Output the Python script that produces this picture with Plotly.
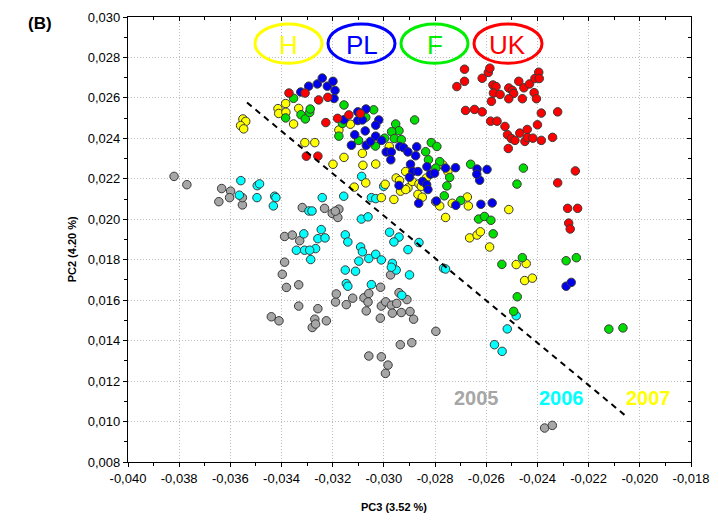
import plotly.graph_objects as go

# ---- PC3 / PC2 scores per country group -------------------------------------
gray_pc3 = [-0.03820, -0.03770, -0.03634, -0.03599, -0.03645, -0.03603, -0.03553, -0.03553,
            -0.03388, -0.03358, -0.03388, -0.03397, -0.03381, -0.03333, -0.03333, -0.03440,
            -0.03410, -0.03258, -0.03270, -0.03280, -0.03267, -0.03225, -0.03189, -0.03186,
            -0.03147, -0.03122, -0.03319, -0.03232, -0.03202, -0.03180, -0.03176, -0.03190,
            -0.02974, -0.03078, -0.03059, -0.03062, -0.03069, -0.03013, -0.03010, -0.02993,
            -0.02971, -0.02950, -0.02941, -0.02967, -0.02932, -0.02910, -0.02898, -0.02884,
            -0.03014, -0.02797, -0.03059, -0.03010, -0.02984, -0.02994, -0.02936, -0.02891,
            -0.02372, -0.02342, -0.03329]
gray_pc2 = [0.02212, 0.02171, 0.02152, 0.02139, 0.02087, 0.02107, 0.02071, 0.02107,
            0.01915, 0.01922, 0.01788, 0.01728, 0.01663, 0.01676, 0.01571, 0.01518,
            0.01498, 0.01558, 0.01506, 0.01465, 0.01482, 0.01498, 0.01591, 0.01631,
            0.01578, 0.01610, 0.02058, 0.02054, 0.02029, 0.02009, 0.02050, 0.02040,
            0.01725, 0.01612, 0.01633, 0.01591, 0.01547, 0.01664, 0.01571, 0.01592,
            0.01575, 0.01584, 0.01637, 0.01536, 0.01539, 0.01603, 0.01544, 0.01506,
            0.01511, 0.01446, 0.01324, 0.01320, 0.01279, 0.01238, 0.01380, 0.01390,
            0.00968, 0.00981, 0.01894]

cyan_pc3 = [-0.03559, -0.03565, -0.03495, -0.03486, -0.03496, -0.03427, -0.03422, -0.03432,
            -0.03342, -0.03313, -0.03293, -0.03281, -0.03241, -0.03157, -0.03049, -0.03032,
            -0.03088, -0.03062, -0.03245, -0.03258, -0.03230, -0.03267, -0.03310, -0.03290,
            -0.03286, -0.03151, -0.03141, -0.03091, -0.03084, -0.03059, -0.03032, -0.03010,
            -0.03098, -0.03151, -0.03111, -0.03147, -0.03141, -0.03049, -0.02978, -0.02941,
            -0.02961, -0.02906, -0.02863, -0.02967, -0.02952, -0.02900, -0.02930, -0.02971,
            -0.02767, -0.02759, -0.02483, -0.02518, -0.02568, -0.02538, -0.03087, -0.03001]
cyan_pc2 = [0.02191, 0.02119, 0.02166, 0.02175, 0.02107, 0.02114, 0.02107, 0.02066,
            0.01847, 0.01928, 0.02041, 0.02041, 0.02107, 0.02114, 0.02107, 0.02102,
            0.02001, 0.02012, 0.01949, 0.01904, 0.01908, 0.01855, 0.01847, 0.01847,
            0.01801, 0.01923, 0.01888, 0.01863, 0.01839, 0.01806, 0.01827, 0.01799,
            0.01793, 0.01749, 0.01743, 0.01682, 0.01669, 0.01677, 0.01936, 0.01912,
            0.01888, 0.01850, 0.01885, 0.01782, 0.01749, 0.01725, 0.01624, 0.01763,
            0.01758, 0.01754, 0.01523, 0.01458, 0.01380, 0.01347, 0.02212, 0.02163]

yellow_pc3 = [-0.03551, -0.03540, -0.03560, -0.03548, -0.03414, -0.03411, -0.03384, -0.03383,
              -0.03353, -0.03333, -0.03309, -0.03270, -0.03199, -0.03156, -0.03176, -0.03131,
              -0.03116, -0.03084, -0.03082, -0.03032, -0.03071, -0.02995, -0.02979, -0.03010,
              -0.02952, -0.02939, -0.02915, -0.02906, -0.02935, -0.02961, -0.02915, -0.02889,
              -0.02863, -0.02854, -0.02867, -0.02850, -0.02834, -0.02770, -0.02750, -0.02798,
              -0.02782, -0.02759, -0.02733, -0.02674, -0.02670, -0.02512, -0.02665, -0.02636,
              -0.02623, -0.02587, -0.02483, -0.02444, -0.02450, -0.02420]
yellow_pc2 = [0.02496, 0.02484, 0.02463, 0.02447, 0.02547, 0.02523, 0.02572, 0.02529,
              0.02471, 0.02548, 0.02379, 0.02379, 0.02272, 0.02306, 0.02441, 0.02470,
              0.02159, 0.02326, 0.02267, 0.02273, 0.02180, 0.02173, 0.02360, 0.02107,
              0.02204, 0.02192, 0.02236, 0.02155, 0.02139, 0.02098, 0.02147, 0.02187,
              0.02175, 0.02163, 0.02123, 0.02109, 0.02204, 0.02269, 0.02236, 0.02087,
              0.02066, 0.02009, 0.02079, 0.02110, 0.02066, 0.02048, 0.01908, 0.01922,
              0.01938, 0.01863, 0.01776, 0.01781, 0.01697, 0.01709]

green_pc3 = [-0.03384, -0.03353, -0.03324, -0.03307, -0.03290, -0.03288, -0.03156, -0.03176,
             -0.03162, -0.03099, -0.03040, -0.03071, -0.02954, -0.02941, -0.02970, -0.02880,
             -0.02959, -0.02932, -0.02997, -0.03033, -0.02815, -0.02793, -0.02837, -0.02826,
             -0.02782, -0.02797, -0.02743, -0.02754, -0.02661, -0.02455, -0.02480, -0.02764,
             -0.02700, -0.02630, -0.02607, -0.02582, -0.02573, -0.02539, -0.02459, -0.02479,
             -0.02493, -0.02288, -0.02248, -0.02121, -0.02066]
green_pc2 = [0.02501, 0.02598, 0.02517, 0.02496, 0.02528, 0.02545, 0.02565, 0.02411,
             0.02474, 0.02390, 0.02541, 0.02504, 0.02471, 0.02438, 0.02433, 0.02491,
             0.02399, 0.02394, 0.02401, 0.02362, 0.02379, 0.02360, 0.02334, 0.02294,
             0.02285, 0.02253, 0.02207, 0.02165, 0.02272, 0.02253, 0.02174, 0.02116,
             0.02093, 0.02001, 0.02014, 0.01995, 0.01928, 0.01777, 0.01810, 0.01617,
             0.01545, 0.01795, 0.01810, 0.01457, 0.01463]

blue_pc3 = [-0.03325, -0.03294, -0.03260, -0.03241, -0.03221, -0.03199, -0.03195, -0.03191,
            -0.03156, -0.03127, -0.03114, -0.03102, -0.03102, -0.03070, -0.03084, -0.03020,
            -0.03032, -0.03073, -0.03069, -0.03053, -0.03032, -0.03009, -0.02991, -0.02971,
            -0.02973, -0.02938, -0.02923, -0.02906, -0.02872, -0.02876, -0.02896, -0.02887,
            -0.02867, -0.02900, -0.02941, -0.02849, -0.02818, -0.02833, -0.02828, -0.02864,
            -0.02802, -0.02832, -0.02759, -0.02720, -0.02795, -0.02719, -0.02636, -0.02626,
            -0.02597, -0.02621, -0.02577, -0.02637, -0.02288, -0.02268]
blue_pc2 = [0.02629, 0.02658, 0.02669, 0.02698, 0.02658, 0.02682, 0.02597, 0.02637,
            0.02492, 0.02366, 0.02418, 0.02488, 0.02531, 0.02545, 0.02491, 0.02491,
            0.02465, 0.02437, 0.02366, 0.02385, 0.02411, 0.02390, 0.02333, 0.02333,
            0.02294, 0.02360, 0.02354, 0.02333, 0.02358, 0.02314, 0.02272, 0.02236,
            0.02236, 0.02208, 0.02167, 0.02187, 0.02223, 0.02171, 0.02147, 0.02079,
            0.02228, 0.02260, 0.02253, 0.02255, 0.02090, 0.02069, 0.02248, 0.02193,
            0.02246, 0.02074, 0.02081, 0.02223, 0.01669, 0.01688]

red_pc3 = [-0.03371, -0.03308, -0.03255, -0.03219, -0.03303, -0.03258, -0.03227, -0.03181,
           -0.03137, -0.03092, -0.02685, -0.02715, -0.02685, -0.02616, -0.02592, -0.02586,
           -0.02574, -0.02562, -0.02572, -0.02546, -0.02580, -0.02512, -0.02498, -0.02493,
           -0.02512, -0.02473, -0.02453, -0.02459, -0.02431, -0.02410, -0.02395, -0.02393,
           -0.02413, -0.02404, -0.02681, -0.02646, -0.02616, -0.02583, -0.02558, -0.02527,
           -0.02517, -0.02502, -0.02488, -0.02469, -0.02449, -0.02440, -0.02439, -0.02418,
           -0.02400, -0.02385, -0.02385, -0.02341, -0.02321, -0.02514, -0.02252, -0.02321,
           -0.02282, -0.02243, -0.02278, -0.02272]
red_pc2 = [0.02624, 0.02624, 0.02590, 0.02603, 0.02312, 0.02312, 0.02478, 0.02499,
           0.02516, 0.02523, 0.02742, 0.02656, 0.02682, 0.02697, 0.02726, 0.02747,
           0.02664, 0.02656, 0.02624, 0.02617, 0.02583, 0.02649, 0.02637, 0.02622,
           0.02596, 0.02682, 0.02650, 0.02596, 0.02669, 0.02696, 0.02727, 0.02696,
           0.02626, 0.02596, 0.02538, 0.02543, 0.02531, 0.02485, 0.02485, 0.02459,
           0.02418, 0.02399, 0.02390, 0.02426, 0.02385, 0.02444, 0.02404, 0.02401,
           0.02467, 0.02525, 0.02390, 0.02405, 0.02531, 0.02350, 0.02239, 0.02180,
           0.02054, 0.02054, 0.01981, 0.01952]

# Separating line between seasons (two end points in PC3/PC2 space)
split_pc3 = [-0.03535, -0.02060]
split_pc2 = [0.02577, 0.01033]

groups = [
    ("2005", gray_pc3, gray_pc2, "#a6a6a6"),
    ("2006", cyan_pc3, cyan_pc2, "#00ffff"),
    ("H", yellow_pc3, yellow_pc2, "#ffff00"),
    ("F", green_pc3, green_pc2, "#00dd00"),
    ("PL", blue_pc3, blue_pc2, "#0000ee"),
    ("UK", red_pc3, red_pc2, "#ff0000"),
]

x_ticks = [-0.040, -0.038, -0.036, -0.034, -0.032, -0.030, -0.028, -0.026, -0.024, -0.022, -0.020, -0.018]
x_labels = ["-0,040", "-0,038", "-0,036", "-0,034", "-0,032", "-0,030", "-0,028", "-0,026",
            "-0,024", "-0,022", "-0,020", "-0,018"]
y_ticks = [0.008, 0.010, 0.012, 0.014, 0.016, 0.018, 0.020, 0.022, 0.024, 0.026, 0.028, 0.030]
y_labels = ["0,008", "0,010", "0,012", "0,014", "0,016", "0,018", "0,020", "0,022", "0,024",
            "0,026", "0,028", "0,030"]
x_minor = [-0.040 + 0.001 * i for i in range(23)]
y_minor = [0.008 + 0.001 * i for i in range(23)]

X_RANGE = [-0.040, -0.018]
Y_RANGE = [0.008, 0.030]

W, H = 719, 524
L, R, T, B = 128, 28, 10, 62
FONT = "Liberation Sans, Arial, sans-serif"


def px(x):
    return (x - L) / (W - L - R)


def py(y):
    return (H - B - y) / (H - T - B)


fig = go.Figure()

for name, xs, ys, col in groups:
    fig.add_trace(go.Scatter(
        x=xs, y=ys, mode="markers", name=name, showlegend=False,
        marker=dict(size=8.5, color=col, line=dict(color="#3a3a3a", width=1)),
    ))

fig.add_trace(go.Scatter(
    x=split_pc3, y=split_pc2, mode="lines", showlegend=False,
    line=dict(color="black", width=2, dash="6px,5px"),
))

# empty trace on the mirrored axes so their inside ticks get drawn
fig.add_trace(go.Scatter(x=[], y=[], xaxis="x2", yaxis="y2", showlegend=False))

axis_common = dict(
    showline=True, linecolor="black", linewidth=1.3,
    tickfont=dict(family=FONT, size=13, color="black"),
    ticklen=4, tickcolor="black", tickwidth=1,
    zeroline=False,
)

grid = dict(showgrid=True, gridcolor="#bdbdbd", griddash="1px,2px", gridwidth=1)

fig.update_layout(
    width=W, height=H, autosize=False,
    margin=dict(l=L, r=R, t=T, b=B),
    paper_bgcolor="white", plot_bgcolor="white",
    xaxis=dict(
        range=X_RANGE, tickmode="array", tickvals=x_ticks, ticktext=x_labels,
        ticks="outside",
        minor=dict(tickmode="array", tickvals=x_minor, ticks="outside", ticklen=3,
                   tickcolor="black", showgrid=False),
        **grid, **axis_common,
    ),
    yaxis=dict(
        range=Y_RANGE, tickmode="array", tickvals=y_ticks, ticktext=y_labels,
        ticks="outside",
        minor=dict(tickmode="array", tickvals=y_minor, ticks="outside", ticklen=3,
                   tickcolor="black", showgrid=False),
        **grid, **axis_common,
    ),
    xaxis2=dict(
        range=X_RANGE, overlaying="x", side="top", tickmode="array", tickvals=x_ticks,
        showticklabels=False, ticks="inside", showgrid=False,
        minor=dict(tickmode="array", tickvals=x_minor, ticks="inside", ticklen=3, tickcolor="black"),
        **axis_common,
    ),
    yaxis2=dict(
        range=Y_RANGE, overlaying="y", side="right", tickmode="array", tickvals=y_ticks,
        showticklabels=False, ticks="inside", showgrid=False,
        minor=dict(tickmode="array", tickvals=y_minor, ticks="inside", ticklen=3, tickcolor="black"),
        **axis_common,
    ),
)

# country ellipses
ellipses = [
    ("H", 255, 17, 322, 57, "#ffff00"),
    ("PL", 328, 17, 395, 57, "#0000ff"),
    ("F", 401, 17, 468, 57, "#00ee00"),
    ("UK", 474, 17, 542, 57, "#ff0000"),
]
for label, x0, y0, x1, y1, col in ellipses:
    fig.add_shape(type="circle", xref="paper", yref="paper",
                  x0=px(x0), x1=px(x1), y0=py(y1), y1=py(y0),
                  line=dict(color=col, width=3), fillcolor="rgba(0,0,0,0)")
    fig.add_annotation(text=label, xref="paper", yref="paper",
                       x=px((x0 + x1) / 2), y=py((y0 + y1) / 2 + 1),
                       showarrow=False, xanchor="center", yanchor="middle",
                       font=dict(family=FONT, size=26, color=col))

# season labels
for label, xc, col in [("2005", 476, "#a6a6a6"), ("2006", 561, "#00ffff"), ("2007", 648, "#ffff00")]:
    fig.add_annotation(text="<b>%s</b>" % label, xref="paper", yref="paper",
                       x=px(xc), y=py(397), showarrow=False, xanchor="center", yanchor="middle",
                       font=dict(family=FONT, size=20, color=col))

# axis titles and panel letter
fig.add_annotation(text="<b>PC3 (3.52 %)</b>", xref="paper", yref="paper",
                   x=px(394), y=py(508), showarrow=False, xanchor="center", yanchor="middle",
                   font=dict(family=FONT, size=11, color="black"))
fig.add_annotation(text="<b>PC2 (4.20 %)</b>", xref="paper", yref="paper",
                   x=px(72), y=py(246), showarrow=False, xanchor="center", yanchor="middle",
                   textangle=-90, font=dict(family=FONT, size=11, color="black"))
fig.add_annotation(text="<b>(B)</b>", xref="paper", yref="paper",
                   x=px(40), y=py(17), showarrow=False, xanchor="center", yanchor="middle",
                   font=dict(family=FONT, size=17, color="black"))

fig.write_html("out.html")
